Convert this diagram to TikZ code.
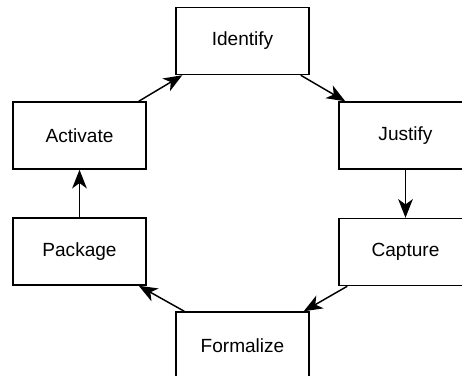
\documentclass[tikz,border=0pt]{standalone}
\usepackage{fontspec}
\setmainfont{Liberation Sans}
\usepackage{tikz}
\usetikzlibrary{arrows.meta}
\usetikzlibrary{positioning,calc}
\tikzset{
    stage/.style={
        draw,
        rectangle,
        fill=white,
        line width=1.1pt,
        minimum width=99.75pt,
        minimum height=50.25pt,
        inner sep=0pt,
        font=\fontsize{14.3}{16}\selectfont
    },
    flow/.style={
        draw,
        -{Stealth[length=14pt, width=11pt, inset=4pt]},
        line width=1.1pt
    }
}

\begin{document}
\begin{tikzpicture}[x=0.75pt, y=-0.75pt]
  \clip (0,0) rectangle (462,376);

  % Stages of the cycle
  \node[stage] (identify)  at (242.5,41)    {Identify};
  \node[stage] (justify)   at (405.5,135.5) {Justify};
  \node[stage] (capture)   at (405.5,252)   {Capture};
  \node[stage] (formalize) at (242.5,345.5) {Formalize};
  \node[stage] (package)   at (79.5,251.5)  {Package};
  \node[stage] (activate)  at (79.5,135.5)  {Activate};

  % Arrows
  \draw[flow] ($(activate.north east)+(-8,0)$) -- ($(identify.south west)+(7,0)$);
  \draw[flow] ($(identify.south east)+(-9,0)$) -- ($(justify.north west)+(7,0)$);
  \draw[flow] (justify) -- (capture);
  \draw[flow] ($(capture.south west)+(9,0)$) -- ($(formalize.north east)+(-6,0)$);
  \draw[flow] ($(formalize.north west)+(9,0)$) -- ($(package.south east)+(-8,0)$);
  \draw[flow] (package) -- (activate);
\end{tikzpicture}
\end{document}
